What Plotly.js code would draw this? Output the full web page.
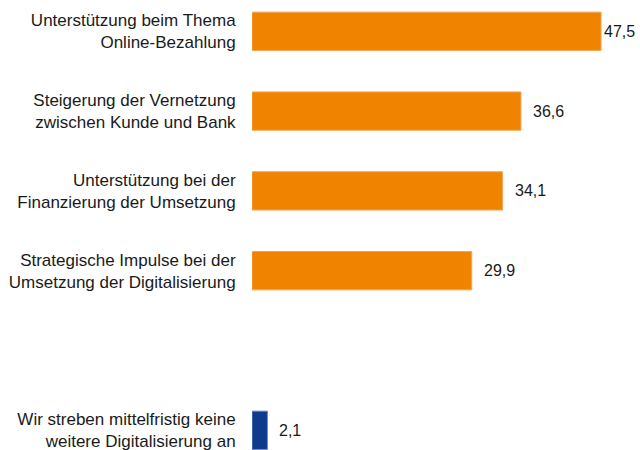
<!DOCTYPE html>
<html>
<head>
<meta charset="utf-8">
<script src="https://cdn.plot.ly/plotly-3.0.1.min.js"></script>
<style>html,body{margin:0;padding:0;background:#fff;}#chart{width:640px;height:450px;}</style>
</head>
<body>
<div id="chart"></div>
<script>
const positions = [0, 1, 2, 3, 5];
const labels = [
  "Unterstützung beim Thema<br>Online-Bezahlung",
  "Steigerung der Vernetzung<br>zwischen Kunde und Bank",
  "Unterstützung bei der<br>Finanzierung der Umsetzung",
  "Strategische Impulse bei der<br>Umsetzung der Digitalisierung",
  "Wir streben mittelfristig keine<br>weitere Digitalisierung an"
];
const values = [47.5, 36.6, 34.1, 29.9, 2.1];
const valueText = ["47,5", "36,6", "34,1", "29,9", "2,1"];
const barColors = ["#F08300", "#F08300", "#F08300", "#F08300", "#0E3B8C"];
const lineColors = ["#F5A552", "#F5A552", "#F5A552", "#F5A552", "#6F8CC0"];

const trace = {
  type: 'bar',
  orientation: 'h',
  x: values,
  y: positions,
  width: 0.48,
  marker: {color: barColors, line: {color: lineColors, width: 1}},
  hoverinfo: 'none'
};

const annotations = values.map((v, i) => ({
  x: v, y: positions[i], xref: 'x', yref: 'y',
  text: valueText[i], showarrow: false, xanchor: 'left', yanchor: 'middle',
  xshift: i === 0 ? 1 : 10,
  font: {family: 'Liberation Sans', size: 16, color: '#1a1a1a'}
}));

const layout = {
  width: 640, height: 450,
  margin: {l: 252, r: 0, t: 0, b: 0},
  paper_bgcolor: '#fff', plot_bgcolor: '#fff',
  showlegend: false,
  xaxis: {range: [0, 52.8], visible: false, fixedrange: true},
  yaxis: {
    range: [5.247, -0.392],
    tickvals: positions, ticktext: labels,
    showgrid: false, zeroline: false, showline: false,
    ticks: 'outside', ticklen: 12, tickcolor: 'rgba(0,0,0,0)',
    ticklabeloverflow: 'allow',
    tickfont: {family: 'Liberation Sans', size: 17, color: '#1a1a1a'}
  },
  annotations: annotations
};

Plotly.newPlot('chart', [trace], layout, {displayModeBar: false, staticPlot: true});
</script>
</body>
</html>
